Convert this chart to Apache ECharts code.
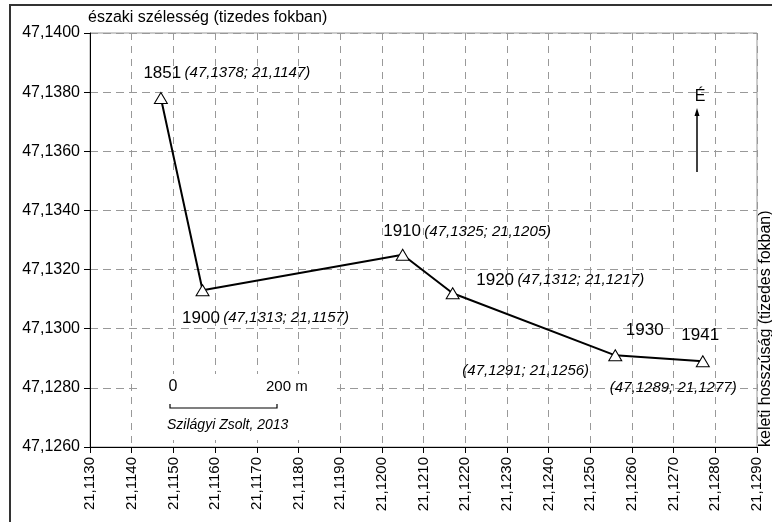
<!DOCTYPE html>
<html>
<head>
<meta charset="utf-8">
<script src="https://cdn.jsdelivr.net/npm/echarts@6/dist/echarts.min.js"></script>
<style>
html,body{margin:0;padding:0;background:#fff;}
#c{width:772px;height:522px;}
</style>
</head>
<body>
<div id="c"></div>
<script>
// ---- data ----
const years = ['1851', '1900', '1910', '1920', '1930', '1941'];
const longitudes = [21.1147, 21.1157, 21.1205, 21.1217, 21.1256, 21.1277];
const latitudes = [47.1378, 47.1313, 47.1325, 47.1312, 47.1291, 47.1289];
const xTicks = { min: 21.113, max: 21.129, interval: 0.001 };
const yTicks = { min: 47.126, max: 47.140, interval: 0.002 };
const yAxisTitle = 'északi szélesség (tizedes fokban)';
const xAxisTitle = 'keleti hosszúság (tizedes fokban)';

// ---- label layout (presentation only) ----
const yearOffsets = [[-18, -25], [-21, 28], [-20, -23], [23, -13], [10, -25], [-22, -26]];
const coordDetached = [false, false, false, false, true, true];
const coordOffsets = [null, null, null, null, [-153, 15], [-93, 27]];

const fmt = v => v.toFixed(4).replace('.', ',');
const coordText = i => '(' + fmt(latitudes[i]) + '; ' + fmt(longitudes[i]) + ')';
const FONT = '"Liberation Sans", Arial, sans-serif';

const SYM_HALF = 6.5;
const mainData = years.map((y, i) => ({
  value: [longitudes[i], latitudes[i]],
  label: {
    show: true,
    position: 'right',
    distance: 0,
    align: 'left',
    verticalAlign: 'middle',
    offset: [yearOffsets[i][0] - SYM_HALF, yearOffsets[i][1]],
    formatter: coordDetached[i] ? '{y|' + y + '}' : '{y|' + y + '} {c|' + coordText(i) + '}'
  }
}));
const coordData = years.map((y, i) => ({
  value: [longitudes[i], latitudes[i]],
  label: coordDetached[i] ? {
    show: true,
    position: 'right',
    distance: 0,
    align: 'left',
    verticalAlign: 'middle',
    offset: coordOffsets[i],
    formatter: '{c|' + coordText(i) + '}'
  } : { show: false }
}));

const rich = {
  y: { fontSize: 17, color: '#000', fontFamily: FONT },
  c: { fontSize: 15, fontStyle: 'italic', color: '#000', fontFamily: FONT }
};

const chart = echarts.init(document.getElementById('c'), null, { renderer: 'canvas' });
chart.setOption({
  animation: false,
  backgroundColor: '#fff',
  textStyle: { fontFamily: FONT },
  grid: { left: 90, top: 33, right: 15, bottom: 75, show: true, borderColor: '#999', borderWidth: 1, backgroundColor: 'transparent' },
  xAxis: {
    type: 'value',
    min: xTicks.min, max: xTicks.max, interval: xTicks.interval,
    axisLine: { show: true, onZero: false, lineStyle: { color: '#000', width: 1 } },
    axisTick: { show: true, length: 6, lineStyle: { color: '#000' } },
    axisLabel: { rotate: 90, margin: 10, fontSize: 15, color: '#000', fontFamily: FONT, formatter: v => fmt(v) },
    splitLine: { show: true, lineStyle: { color: '#999', type: [7, 6], width: 1 } }
  },
  yAxis: {
    type: 'value',
    min: yTicks.min, max: yTicks.max, interval: yTicks.interval,
    name: yAxisTitle,
    nameLocation: 'end',
    nameGap: 7,
    nameTextStyle: { align: 'left', fontSize: 16, color: '#000', fontFamily: FONT, padding: [0, 0, 0, -2] },
    axisLine: { show: true, onZero: false, lineStyle: { color: '#000', width: 1 } },
    axisTick: { show: true, length: 6, lineStyle: { color: '#000' } },
    axisLabel: { margin: 10, fontSize: 16, color: '#000', fontFamily: FONT, formatter: v => fmt(v) },
    splitLine: { show: true, lineStyle: { color: '#999', type: [8, 5], width: 1 } }
  },
  series: [
    {
      type: 'line',
      data: mainData,
      z: 3,
      lineStyle: { color: '#000', width: 2 },
      symbol: 'triangle',
      symbolSize: [13, 11],
      itemStyle: { color: '#fff', borderColor: '#000', borderWidth: 1, opacity: 1 },
      label: { rich: rich, textBorderWidth: 0 },
      emphasis: { disabled: true }
    },
    {
      type: 'scatter',
      data: coordData,
      z: 3,
      symbolSize: 0.1,
      itemStyle: { color: '#fff', opacity: 1 },
      label: { rich: rich, textBorderWidth: 0, opacity: 1 },
      silent: true,
      emphasis: { disabled: true }
    }
  ],
  graphic: [
    // outer frame
    { type: 'rect', z: 10, shape: { x: 10, y: 5, width: 820, height: 600 }, style: { fill: null, stroke: '#333', lineWidth: 2 }, silent: true },
    // scale bar box
    { type: 'rect', z: 1, shape: { x: 140, y: 374, width: 195, height: 66 }, style: { fill: '#fff', stroke: null }, silent: true },
    { type: 'text', z: 2, x: 173, y: 387, style: { text: '0', fontSize: 16, fontFamily: FONT, fill: '#000', textAlign: 'center', textVerticalAlign: 'middle' } },
    { type: 'text', z: 2, x: 266, y: 387, style: { text: '200 m', fontSize: 15, fontFamily: FONT, fill: '#000', textAlign: 'left', textVerticalAlign: 'middle' } },
    { type: 'polyline', z: 2, shape: { points: [[170, 404], [170, 408], [277, 408], [277, 404]] }, style: { stroke: '#000', lineWidth: 1.2, fill: null } },
    { type: 'text', z: 2, x: 167, y: 425, style: { text: 'Szilágyi Zsolt, 2013', fontSize: 14, fontStyle: 'italic', fontFamily: FONT, fill: '#000', textAlign: 'left', textVerticalAlign: 'middle' } },
    // north arrow
    { type: 'text', z: 2, x: 700, y: 97, style: { text: 'É', fontSize: 16, fontFamily: FONT, fill: '#000', textAlign: 'center', textVerticalAlign: 'middle' } },
    { type: 'line', z: 2, shape: { x1: 697, y1: 172, x2: 697, y2: 114 }, style: { stroke: '#000', lineWidth: 1.5 } },
    { type: 'polygon', z: 2, shape: { points: [[697, 108], [694.5, 116], [699.5, 116]] }, style: { fill: '#000' } },
    // right axis title
    { type: 'text', z: 2, x: 774, y: 447, rotation: Math.PI / 2, style: { text: xAxisTitle, fontSize: 16, fontFamily: FONT, fill: '#000', textAlign: 'left', textVerticalAlign: 'bottom' } }
  ]
});
</script>
</body>
</html>
